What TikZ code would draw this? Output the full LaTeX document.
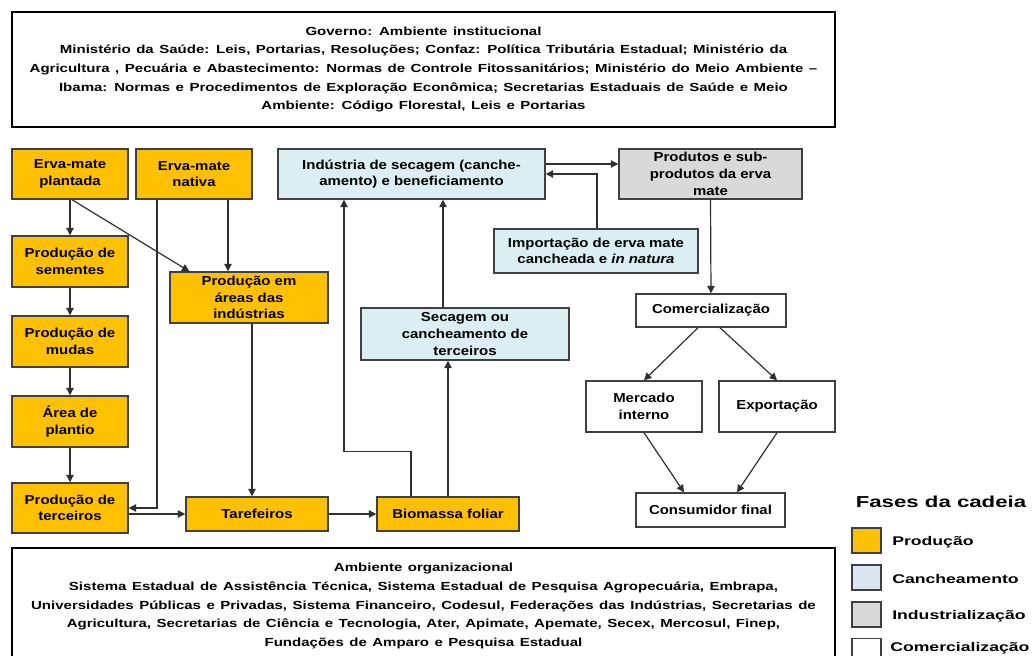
\documentclass[tikz,border=0pt]{standalone}
\usepackage{fontspec}
\setmainfont{Liberation Sans}
\newfontfamily\boxf[FakeStretch=1.15]{Liberation Sans}
\newfontfamily\envf[FakeStretch=1.28]{Liberation Sans}
\newfontfamily\legf[FakeStretch=1.4]{Liberation Sans}
\usetikzlibrary{arrows.meta,calc}
\definecolor{prodc}{HTML}{FFC000}
\definecolor{canc}{HTML}{DAEEF3}
\definecolor{legc}{HTML}{DCE6F2}
\definecolor{indc}{HTML}{D9D9D9}
\definecolor{bordc}{HTML}{404040}
\definecolor{arrc}{HTML}{303030}
\newcommand{\widesp}{\spaceskip=4.1pt plus 1pt\relax}
\tikzset{
  phase/.style={draw=bordc, line width=1.1pt, inner sep=0pt, align=center,
    font=\boxf\bfseries\fontsize{9.75pt}{12.5pt}\selectfont},
  prodbox/.style={phase, fill=prodc},
  cancbox/.style={phase, fill=canc},
  indbox/.style={phase, fill=indc},
  combox/.style={phase, fill=white},
  envbox/.style={draw=black, line width=0.9pt, inner sep=0pt, align=center,
    minimum width=617.25pt, minimum height=86.25pt,
    font=\envf\bfseries\fontsize{8.8pt}{13.9pt}\selectfont},
  lbox/.style={draw=bordc, line width=1pt, minimum width=21.75pt, minimum height=18.75pt, inner sep=0pt},
  ltext/.style={anchor=west, inner sep=0pt, font=\legf\bfseries\fontsize{9.45pt}{11pt}\selectfont},
  arr/.style={draw=arrc, line width=0.9pt, -{Triangle[length=5.5pt,width=5.5pt]}},
  ln/.style={draw=arrc, line width=0.9pt}
}
\begin{document}
\begin{tikzpicture}[x=0.75pt,y=-0.75pt]
\useasboundingbox (0,0) rectangle (1035,656);
\clip (0,0) rectangle (1035,656);
\fill[white] (0,0) rectangle (1035,656);

% environment boxes
\node[envbox] (gov) at (423.5,69.5) {\widesp Governo: Ambiente institucional\\
\widesp Ministério da Saúde: Leis, Portarias, Resoluções; Confaz: Política Tributária Estadual; Ministério da\\
\widesp Agricultura , Pecuária e Abastecimento: Normas de Controle Fitossanitários; Ministério do Meio Ambiente –\\
\widesp Ibama: Normas e Procedimentos de Exploração Econômica; Secretarias Estaduais de Saúde e Meio\\
\widesp Ambiente: Código Florestal, Leis e Portarias};

\node[envbox, minimum height=87pt] (org) at (423.5,606) {\widesp Ambiente organizacional\\
\widesp Sistema Estadual de Assistência Técnica, Sistema Estadual de Pesquisa Agropecuária, Embrapa,\\
\widesp Universidades Públicas e Privadas, Sistema Financeiro, Codesul, Federações das Indústrias, Secretarias de\\
\widesp Agricultura, Secretarias de Ciência e Tecnologia, Ater, Apimate, Apemate, Secex, Mercosul, Finep,\\
\widesp Fundações de Amparo e Pesquisa Estadual};

% production
\node[prodbox, minimum width=87pt, minimum height=37.5pt] (plant) at (70,174) {Erva-mate\\plantada};
\node[prodbox, minimum width=87pt, minimum height=37.5pt] (nativa) at (194,174) {Erva-mate\\nativa};
\node[prodbox, minimum width=87pt, minimum height=38.25pt] (sem) at (70,261.5) {Produção de\\sementes};
\node[prodbox, minimum width=118.5pt, minimum height=38.25pt] (areas) at (249,297.5) {Produção em\\áreas das\\indústrias};
\node[prodbox, minimum width=87pt, minimum height=38.25pt] (mudas) at (70,341.5) {Produção de\\mudas};
\node[prodbox, minimum width=87pt, minimum height=38.25pt] (area) at (70,421.5) {Área de\\plantio};
\node[prodbox, minimum width=87pt, minimum height=37.5pt] (terc) at (70,508) {Produção de\\terceiros};
\node[prodbox, minimum width=106.5pt, minimum height=25.5pt] (taref) at (257,514) {Tarefeiros};
\node[prodbox, minimum width=106.5pt, minimum height=25.5pt] (biom) at (448,514) {Biomassa foliar};

% cancheamento
\node[cancbox, minimum width=200.25pt, minimum height=37.5pt] (ind) at (411.5,174) {Indústria de secagem (canche-\\amento) e beneficiamento};
\node[cancbox, minimum width=153pt, minimum height=33pt] (imp) at (596,251) {Importação de erva mate\\cancheada e \textit{in natura}};
\node[cancbox, minimum width=156pt, minimum height=39pt] (sec) at (465,334) {Secagem ou\\cancheamento de\\terceiros};

% industrialization
\node[indbox, minimum width=137.25pt, minimum height=37.5pt] (prod) at (710.5,174) {Produtos e sub-\\produtos da erva\\mate};

% commercialization
\node[combox, minimum width=112.5pt, minimum height=24.75pt] (com) at (711,310.5) {Comercialização};
\node[combox, minimum width=87pt, minimum height=38.25pt] (merc) at (644,406.5) {Mercado\\interno};
\node[combox, minimum width=87pt, minimum height=38.25pt] (exp) at (777,406.5) {Exportação};
\node[combox, minimum width=111.75pt, minimum height=25.5pt] (cons) at (710.5,510) {Consumidor final};

% connectors
\draw[arr] (plant.south) -- (sem.north);
\draw[arr] (sem.south) -- (mudas.north);
\draw[arr] (mudas.south) -- (area.north);
\draw[arr] (area.south) -- (terc.north);
\coordinate (p1) at ($(plant.south)+(2,0)$);
\coordinate (p2) at ($(areas.north west)+(20,0)$);
\draw[arr] (p1) -- (p2);
\coordinate (n1) at ($(nativa.south)+(34,0)$);
\draw[arr] (n1) -- (n1 |- areas.north);
\coordinate (n2) at ($(nativa.south)+(-37,0)$);
\draw[arr] (n2) |- (terc.east);
\coordinate (a1) at ($(areas.south)+(3,0)$);
\draw[arr] (a1) -- (a1 |- taref.north);
\coordinate (t1) at ($(terc.east)+(0,6)$);
\draw[arr] (t1) -- (t1 -| taref.west);
\draw[arr] (taref.east) -- (biom.west);
\coordinate (b1) at ($(biom.north)+(-37,0)$);
\coordinate (i1) at ($(ind.south)+(-67.5,0)$);
\draw[arr] (b1) -- ++(0,-45) -| (i1);
\draw[arr] (biom.north) -- (biom.north |- sec.south);
\coordinate (s1) at ($(sec.north)+(-22,0)$);
\draw[arr] (s1) -- (s1 |- ind.south);
\coordinate (e1) at ($(ind.east)+(0,-10)$);
\draw[arr] (e1) -- (e1 -| prod.west);
\coordinate (m1) at ($(imp.north)+(1,0)$);
\draw[arr] (m1) |- (ind.east);
\draw[arr] (prod.south) -- (com.north);
\coordinate (c1) at ($(com.south)+(-13,0)$);
\coordinate (c2) at ($(com.south)+(9,0)$);
\draw[arr] (c1) -- (merc.north);
\draw[arr] (c2) -- (exp.north);
\coordinate (f1) at ($(cons.north)+(-26.5,0)$);
\coordinate (f2) at ($(cons.north)+(26.5,0)$);
\draw[arr] (merc.south) -- (f1);
\draw[arr] (exp.south) -- (f2);

% legend
\node[font=\legf\bfseries\fontsize{11.9pt}{14pt}\selectfont, inner sep=0pt] (ltitle) at (941,502) {Fases da cadeia};
\node[lbox, fill=prodc] (l1) at (866.5,540.5) {};
\node[lbox, fill=legc] (l2) at (866.5,577.5) {};
\node[lbox, fill=indc] (l3) at (866.5,614.5) {};
\node[lbox, fill=white] (l4) at (866.5,651) {};
\node[ltext] (t1l) at (892,542) {Produção};
\node[ltext] (t2l) at (892,579) {Cancheamento};
\node[ltext] (t3l) at (892,616) {Industrialização};
\node[ltext] (t4l) at (890,648.5) {Comercialização};
\end{tikzpicture}
\end{document}
